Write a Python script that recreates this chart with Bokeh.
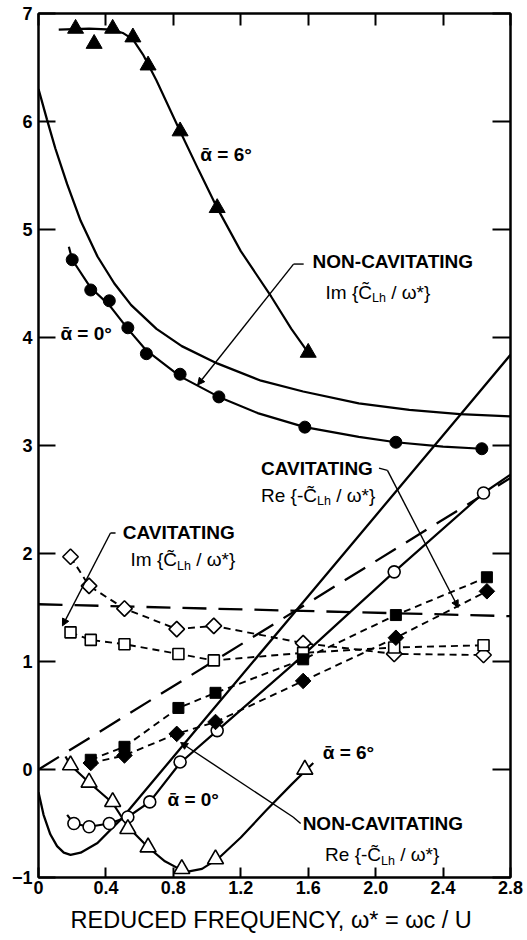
import numpy as np
from bokeh.plotting import figure
from bokeh.models import (LinearAxis, FixedTicker, Arrow, NormalHead, Label,
                          CustomLabelingPolicy)
from bokeh.embed import file_html
from bokeh.resources import INLINE

FONT = "Liberation Sans"

# ---------------- axis ticks ----------------
x_ticks = [0, 0.4, 0.8, 1.2, 1.6, 2.0, 2.4, 2.8]
x_tick_labels = ["0", "0.4", "0.8", "1.2", "1.6", "2.0", "2.4", "2.8"]
y_ticks = [-1, 0, 1, 2, 3, 4, 5, 6, 7]

# ---------------- non-cavitating theory (solid) ----------------
theory_im_x = [0, 0.05, 0.1, 0.17, 0.25, 0.35, 0.45, 0.55, 0.7, 0.85, 1.06, 1.32, 1.57, 1.9, 2.2, 2.5, 2.8]
theory_im_y = [6.3, 6.02, 5.75, 5.42, 5.08, 4.75, 4.5, 4.3, 4.08, 3.92, 3.76, 3.6, 3.5, 3.39, 3.33, 3.29, 3.27]
theory_re_x = [0, 0.03, 0.07, 0.11, 0.15, 0.19, 0.25, 0.35, 0.49, 0.7, 1.0, 1.5, 2.0, 2.5, 2.8]
theory_re_y = [-0.21, -0.42, -0.60, -0.71, -0.77, -0.79, -0.77, -0.68, -0.46, -0.07, 0.49, 1.42, 2.35, 3.28, 3.84]

# ---------------- cavitating theory (long dash) ----------------
cav_theory_im_x = [0, 2.8]
cav_theory_im_y = [1.53, 1.42]
cav_theory_re_x = [0, 2.8]
cav_theory_re_y = [0.0, 2.70]

# ---------------- non-cavitating experiments ----------------
# Im, alpha = 6 deg (filled triangles)
im6_x = [0.22, 0.33, 0.44, 0.56, 0.65, 0.84, 1.06, 1.60]
im6_y = [6.86, 6.72, 6.86, 6.78, 6.52, 5.91, 5.20, 3.86]
im6_fit_x = [0.12, 0.30, 0.44, 0.50, 0.56, 0.62, 0.70, 0.84, 0.95, 1.06, 1.20, 1.38, 1.50, 1.60]
im6_fit_y = [6.85, 6.86, 6.85, 6.82, 6.76, 6.62, 6.38, 5.91, 5.55, 5.20, 4.80, 4.38, 4.08, 3.86]
# Im, alpha = 0 deg (filled circles)
im0_x = [0.20, 0.31, 0.42, 0.53, 0.64, 0.84, 1.07, 1.58, 2.12, 2.63]
im0_y = [4.72, 4.44, 4.34, 4.09, 3.85, 3.66, 3.45, 3.17, 3.03, 2.97]
im0_fit_x = [0.18, 0.20, 0.31, 0.42, 0.53, 0.64, 0.84, 1.07, 1.30, 1.58, 1.90, 2.12, 2.40, 2.63]
im0_fit_y = [4.84, 4.72, 4.46, 4.30, 4.08, 3.88, 3.64, 3.45, 3.30, 3.17, 3.08, 3.03, 2.99, 2.97]
# Re, alpha = 0 deg (open circles)
re0_x = [0.21, 0.30, 0.42, 0.53, 0.66, 0.84, 1.06, 2.11, 2.64]
re0_y = [-0.50, -0.53, -0.50, -0.44, -0.30, 0.07, 0.36, 1.83, 2.56]
re0_fit_x = [0.17, 0.21, 0.30, 0.42, 0.53, 0.66, 0.84, 1.06, 1.50, 2.11, 2.64, 2.80]
re0_fit_y = [-0.42, -0.50, -0.53, -0.50, -0.44, -0.30, 0.06, 0.36, 0.96, 1.83, 2.56, 2.73]
# Re, alpha = 6 deg (open triangles)
re6_x = [0.19, 0.30, 0.44, 0.53, 0.65, 0.85, 1.05, 1.58]
re6_y = [0.04, -0.12, -0.30, -0.55, -0.72, -0.92, -0.83, 0.0]
re6_fit_x = [0.16, 0.19, 0.30, 0.44, 0.53, 0.65, 0.75, 0.87, 0.97, 1.07, 1.20, 1.35, 1.50, 1.63]
re6_fit_y = [0.12, 0.04, -0.12, -0.31, -0.53, -0.72, -0.85, -0.95, -0.92, -0.82, -0.63, -0.38, -0.14, 0.06]

# ---------------- cavitating experiments ----------------
cav_im_diam_x = [0.19, 0.30, 0.51, 0.82, 1.04, 1.57, 2.11, 2.64]
cav_im_diam_y = [1.97, 1.70, 1.49, 1.30, 1.33, 1.17, 1.07, 1.06]
cav_im_sq_x = [0.19, 0.31, 0.51, 0.83, 1.04, 1.57, 2.11, 2.64]
cav_im_sq_y = [1.27, 1.20, 1.16, 1.07, 1.01, 1.08, 1.13, 1.15]
cav_re_sq_x = [0.31, 0.51, 0.83, 1.05, 1.57, 2.12, 2.66]
cav_re_sq_y = [0.09, 0.21, 0.57, 0.71, 1.02, 1.43, 1.78]
cav_re_diam_x = [0.31, 0.51, 0.82, 1.05, 1.57, 2.12, 2.66]
cav_re_diam_y = [0.06, 0.13, 0.33, 0.44, 0.82, 1.22, 1.65]

# ---------------- figure ----------------
p = figure(width=527, height=940, x_range=(0, 2.8), y_range=(-1, 7),
           output_backend="svg", toolbar_location=None,
           min_border_left=38, min_border_right=17, min_border_top=13, min_border_bottom=63)
p.grid.visible = False
p.outline_line_color = "black"
p.outline_line_width = 2
p.background_fill_color = "white"
p.border_fill_color = "white"

NO_LABELS = CustomLabelingPolicy(code="""
const all = [...indices];
for (const i of all) indices.unset(i);
return indices;
""")


def style_axis(ax, tick_in, labels=True):
    ax.axis_line_width = 2
    ax.axis_line_color = "black"
    ax.major_tick_in = tick_in
    ax.major_tick_out = 0
    ax.major_tick_line_width = 2
    ax.major_tick_line_color = "black"
    ax.minor_tick_line_color = None
    ax.minor_tick_in = 0
    ax.minor_tick_out = 0
    if labels:
        ax.major_label_text_font = FONT
        ax.major_label_text_font_size = "18px"
        ax.major_label_text_font_style = "bold"
        ax.major_label_text_color = "black"
    else:
        ax.major_label_policy = NO_LABELS
        ax.major_label_text_font_size = "2px"
        ax.major_label_standoff = 0


xa = p.xaxis[0]
xa.ticker = FixedTicker(ticks=x_ticks)
xa.major_label_overrides = {t: l for t, l in zip(x_ticks, x_tick_labels)}
style_axis(xa, 10)
xa.major_label_standoff = 3
xa.axis_label = "REDUCED FREQUENCY,  \u03c9* = \u03c9c / U"
xa.axis_label_text_font = FONT
xa.axis_label_text_font_size = "23.5px"
xa.axis_label_text_font_style = "normal"
xa.axis_label_text_color = "black"
xa.axis_label_standoff = 10

ya = p.yaxis[0]
ya.ticker = FixedTicker(ticks=y_ticks)
style_axis(ya, 17)
ya.major_label_standoff = 6

top = LinearAxis(ticker=FixedTicker(ticks=x_ticks))
style_axis(top, 12, labels=False)
p.add_layout(top, "above")
right = LinearAxis(ticker=FixedTicker(ticks=y_ticks))
style_axis(right, 18, labels=False)
p.add_layout(right, "right")

# ---------------- theory curves ----------------
p.line(theory_im_x, theory_im_y, line_color="black", line_width=2.3)
p.line(theory_re_x, theory_re_y, line_color="black", line_width=2.3)
p.line(cav_theory_im_x, cav_theory_im_y, line_color="black", line_width=2.3, line_dash="24 12")
p.line(cav_theory_re_x, cav_theory_re_y, line_color="black", line_width=2.3, line_dash="24 12")

# ---------------- experiment fit curves ----------------
for fx, fy in [(im6_fit_x, im6_fit_y), (im0_fit_x, im0_fit_y),
               (re0_fit_x, re0_fit_y), (re6_fit_x, re6_fit_y)]:
    p.line(fx, fy, line_color="black", line_width=2.2)

for cx, cy in [(cav_im_diam_x, cav_im_diam_y), (cav_im_sq_x, cav_im_sq_y),
               (cav_re_sq_x, cav_re_sq_y), (cav_re_diam_x, cav_re_diam_y)]:
    p.line(cx, cy, line_color="black", line_width=1.9, line_dash="7 5")

# ---------------- markers ----------------
p.scatter(im6_x, im6_y, marker="triangle", size=16, fill_color="black", line_color="black")
p.scatter(im0_x, im0_y, marker="circle", size=12, fill_color="black", line_color="black")
p.scatter(re0_x, re0_y, marker="circle", size=12, fill_color="white", line_color="black", line_width=1.6)
p.scatter(re6_x, re6_y, marker="triangle", size=16, fill_color="white", line_color="black", line_width=1.6)
p.scatter(cav_im_diam_x, cav_im_diam_y, marker="square", angle=np.pi / 4, size=11,
          fill_color="white", line_color="black", line_width=1.6)
p.scatter(cav_im_sq_x, cav_im_sq_y, marker="square", size=11,
          fill_color="white", line_color="black", line_width=1.6)
p.scatter(cav_re_sq_x, cav_re_sq_y, marker="square", size=11, fill_color="black", line_color="black")
p.scatter(cav_re_diam_x, cav_re_diam_y, marker="square", angle=np.pi / 4, size=11,
          fill_color="black", line_color="black")

# ---------------- annotations ----------------
WIDTHS = {' ': 0.278, '{': 0.334, '}': 0.334, '/': 0.278, '*': 0.389, '-': 0.333,
          'I': 0.278, 'm': 0.833, 'R': 0.722, 'e': 0.556, 'C': 0.722, 'L': 0.556,
          'h': 0.556, '\u03c9': 0.69, '\u0303': 0.0}


def text_width(s, size):
    return sum(WIDTHS.get(c, 0.6) for c in s) * size


def label(x, y, text, size=19, bold=True):
    p.add_layout(Label(x=x, y=y, text=text, text_font=FONT, text_font_size=f"{size}px",
                       text_font_style="bold" if bold else "normal",
                       text_baseline="middle", text_align="left", text_color="black"))


def formula(x, y, head, tail, size=19, sub_size=12.5):
    off = 0.0
    for s, fs, dy in [(head, size, 0), ("Lh", sub_size, -6), (tail, size, 0)]:
        lead = len(s) - len(s.lstrip(" "))
        off += lead * WIDTHS[" "] * fs
        s = s.lstrip(" ")
        p.add_layout(Label(x=x, y=y, x_offset=off, y_offset=dy, text=s, text_font=FONT,
                           text_font_size=f"{fs}px", text_baseline="middle",
                           text_align="left", text_color="black"))
        off += text_width(s, fs)


def leader(xs, ys):
    if len(xs) > 2:
        p.line(xs[:-1], ys[:-1], line_color="black", line_width=1.4)
    p.add_layout(Arrow(x_start=xs[-2], y_start=ys[-2], x_end=xs[-1], y_end=ys[-1],
                       line_color="black", line_width=1.4,
                       end=NormalHead(size=7, fill_color="black", line_color="black")))


ALPHA = "\u1fb1"
label(0.96, 5.69, ALPHA + " = 6\u00b0")
label(0.13, 4.04, ALPHA + " = 0\u00b0")
label(1.686, 0.16, ALPHA + " = 6\u00b0")
label(0.765, -0.275, ALPHA + " = 0\u00b0")

label(1.626, 4.70, "NON-CAVITATING")
formula(1.703, 4.42, "Im {C\u0303", " / \u03c9*}")
leader([1.573, 1.513, 0.944], [4.68, 4.68, 3.56])

label(0.50, 2.19, "CAVITATING")
formula(0.546, 1.94, "Im {C\u0303", " / \u03c9*}")
leader([0.457, 0.427, 0.142], [2.19, 2.19, 1.33])

label(1.32, 2.79, "CAVITATING")
formula(1.32, 2.54, "Re {-C\u0303", " / \u03c9*}")
leader([2.02, 2.07, 2.49], [2.79, 2.77, 1.50])

label(1.567, -0.50, "NON-CAVITATING")
formula(1.70, -0.79, "Re {-C\u0303", " / \u03c9*}")
leader([1.555, 1.51, 0.843], [-0.50, -0.44, 0.25])

open("out.html", "w").write(file_html(p, INLINE))
